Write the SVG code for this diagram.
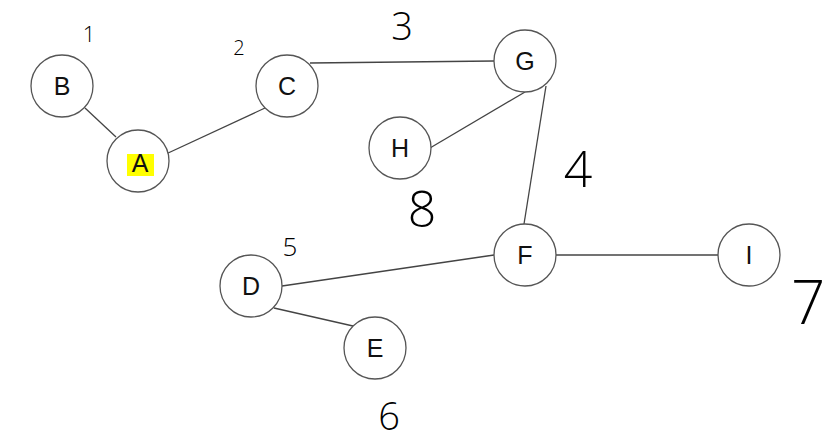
<svg xmlns="http://www.w3.org/2000/svg" width="826" height="443" viewBox="0 0 826 443">
<style>
.node circle{fill:#fff;stroke:#555;stroke-width:1.3}
.node text{font-family:"Liberation Sans",Arial,sans-serif;font-size:25px;fill:#111;text-anchor:middle}
#edges line{stroke:#444;stroke-width:1.3}
.hand{font-family:"Open Sans","Liberation Sans",sans-serif;font-weight:300;fill:#000;text-anchor:middle}
</style>
<rect width="826" height="443" fill="#fff"/>
<g id="edges">
<line x1="85" y1="108" x2="116" y2="137"/>
<line x1="166" y1="154" x2="265" y2="108"/>
<line x1="310" y1="63" x2="494" y2="61"/>
<line x1="430" y1="148" x2="525" y2="92"/>
<line x1="546" y1="86" x2="524" y2="224"/>
<line x1="282" y1="286" x2="494" y2="255"/>
<line x1="274" y1="308" x2="353" y2="326"/>
<line x1="556" y1="255" x2="718" y2="255"/>
</g>
<g id="node-B" class="node"><circle cx="62" cy="86" r="31"/><text x="62" y="95">B</text></g>
<g id="node-A" class="node"><circle cx="138" cy="161" r="31"/><rect x="127" y="154" width="27" height="22" fill="#ffff00"/><text x="140" y="172">A</text></g>
<g id="node-C" class="node"><circle cx="287" cy="86" r="31"/><text x="287" y="95">C</text></g>
<g id="node-G" class="node"><circle cx="525" cy="61" r="31"/><text x="525" y="70">G</text></g>
<g id="node-H" class="node"><circle cx="400" cy="148" r="31"/><text x="400" y="157">H</text></g>
<g id="node-F" class="node"><circle cx="525" cy="255" r="31"/><text x="525" y="264">F</text></g>
<g id="node-I" class="node"><circle cx="749" cy="255" r="31"/><text x="749" y="264">I</text></g>
<g id="node-D" class="node"><circle cx="251" cy="286" r="31"/><text x="251" y="295">D</text></g>
<g id="node-E" class="node"><circle cx="375" cy="348" r="31"/><text x="375" y="357">E</text></g>
<g id="annotations">
<text class="hand" x="89" y="42" font-size="22">1</text>
<text class="hand" x="239" y="55" font-size="20">2</text>
<text class="hand" x="402" y="40" font-size="38">3</text>
<text class="hand" x="578" y="187" font-size="50">4</text>
<text class="hand" x="422" y="227" font-size="50">8</text>
<text class="hand" x="290" y="256" font-size="26">5</text>
<text class="hand" x="389" y="430" font-size="38">6</text>
<text class="hand" x="808" y="324" font-size="60">7</text>
</g>
</svg>
